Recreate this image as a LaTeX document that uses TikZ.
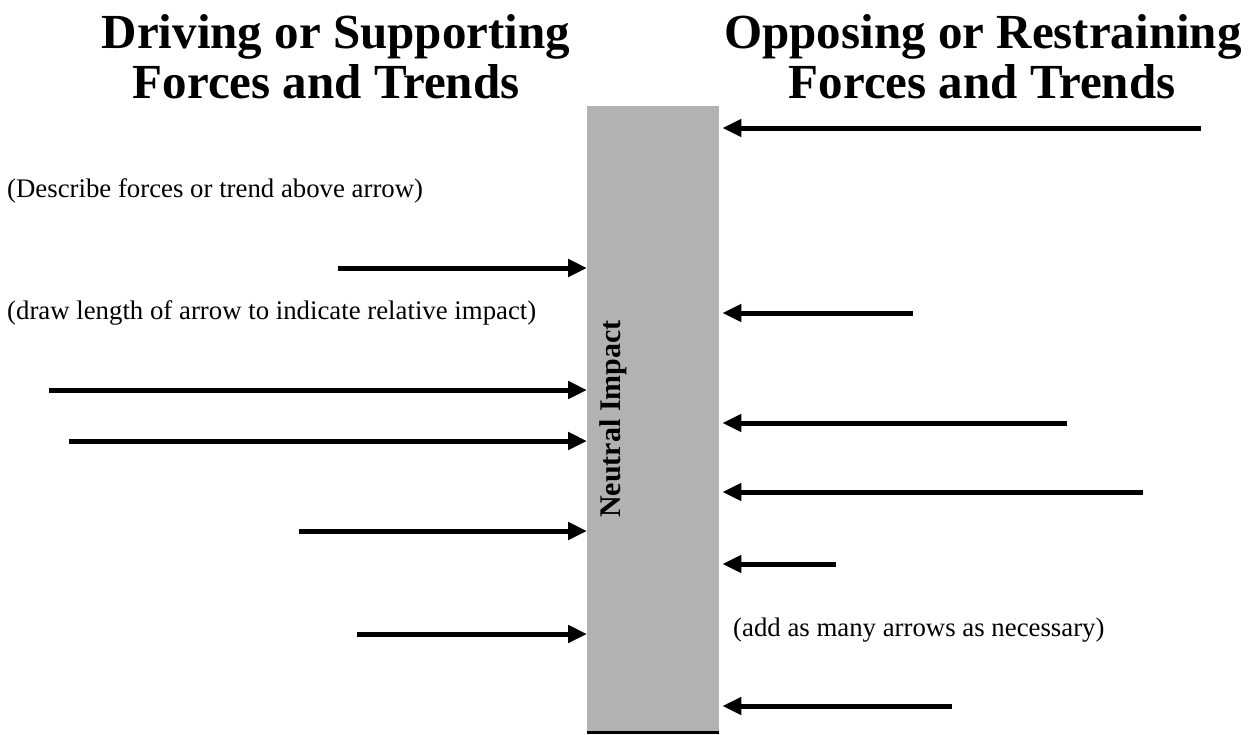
\documentclass[tikz,border=0pt]{standalone}
\usepackage{fontspec}
\setmainfont{Liberation Serif}
\usetikzlibrary{arrows.meta}
\begin{document}
\begin{tikzpicture}[x=1pt,y=-1pt,
  title/.style={font=\bfseries\fontsize{49}{50}\selectfont, align=center, inner sep=0pt},
  note/.style={font=\fontsize{26.8}{30}\selectfont, inner sep=0pt, anchor=base west},
  force/.style={line width=5pt, -{Triangle[length=19pt,width=17pt]}, shorten >=0pt},
  barbox/.style={fill=black!30, draw=none, minimum width=132pt, minimum height=626pt, inner sep=0pt, anchor=north west}]
\useasboundingbox (0,0) rectangle (1248,734);
\fill[white] (0,0) rectangle (1248,734);
% titles
\node[title, anchor=base] (tl1) at (336,48) {Driving or Supporting};
\node[title, anchor=base] (tl2) at (326,98) {Forces and Trends};
\node[title, anchor=base] (tr1) at (983,48) {Opposing or Restraining};
\node[title, anchor=base] (tr2) at (982,98) {Forces and Trends};
% bar
\node[barbox] (bar) at (587,106) {};
\draw[line width=2.5pt] (bar.south west) -- (bar.south east);
\node[font=\bfseries\fontsize{30}{32}\selectfont, rotate=90, inner sep=0pt] (ni) at (613,419) {Neutral Impact};
% notes
\node[note] (n1) at (7,197) {(Describe forces or trend above arrow)};
\node[note] (n2) at (7,319) {(draw length of arrow to indicate relative impact)};
\node[note] (n3) at (733,636) {(add as many arrows as necessary)};
% left arrows
\coordinate (l1) at (338,268);
\coordinate (l2) at (49,390);
\coordinate (l3) at (69,441);
\coordinate (l4) at (299,531);
\coordinate (l5) at (357,634);
\foreach \c in {l1,l2,l3,l4,l5}{
  \draw[force] (\c) -- (\c -| bar.west);
}
% right arrows
\coordinate (r1) at (1201,128);
\coordinate (r2) at (913,313);
\coordinate (r3) at (1067,423);
\coordinate (r4) at (1143,492);
\coordinate (r5) at (836,564);
\coordinate (r6) at (952,706);
\foreach \c in {r1,r2,r3,r4,r5,r6}{
  \draw[force] (\c) -- ([xshift=3pt]\c -| bar.east);
}
\end{tikzpicture}
\end{document}
